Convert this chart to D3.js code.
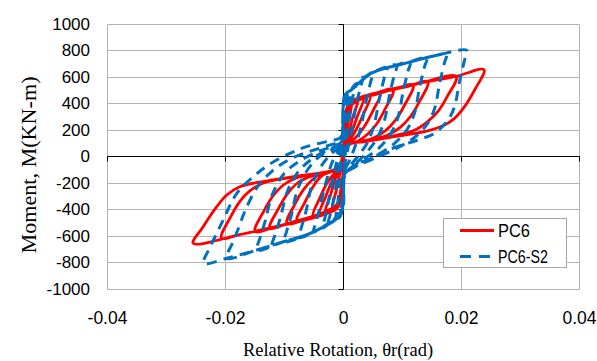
<!DOCTYPE html>
<html><head><meta charset="utf-8">
<script src="https://cdn.jsdelivr.net/npm/d3@7"></script>
<style>body{margin:0;background:#fff}svg{display:block}</style>
</head><body><svg id="c" width="597" height="361"></svg>
<script>
const xTickValues = [-0.04, -0.02, 0, 0.02, 0.04];
const yTickValues = [-1000, -800, -600, -400, -200, 0, 200, 400, 600, 800, 1000];
const seriesNames = ["PC6", "PC6-S2"];
const seriesColors = ["#FF0000", "#0070C0"];

// PC6: relative rotation (rad), moment (kN-m)
const pc6 = [
[0,0],
[0.0003,180],[0.0008,330],[0.0015,395],[0.0009,260],[0.0005,140],[0.0002,40],[0,-120],[-0.0004,-260],[-0.001,-360],[-0.0018,-390],[-0.0011,-250],[-0.0006,-140],[-0.0002,-40],
[0.0001,100],[0.0004,260],[0.001,370],[0.0025,420],[0.0016,290],[0.001,170],[0.0005,110],[0.0002,40],[0,-150],[-0.0004,-280],[-0.001,-360],[-0.003,-420],[-0.0021,-290],[-0.0013,-170],[-0.0006,-110],[-0.0002,-40],
[0.0001,100],[0.0004,270],[0.001,375],[0.0022,410],[0.0035,440],[0.0024,300],[0.0015,190],[0.0007,120],[0.0002,40],[0,-150],[-0.0004,-290],[-0.001,-365],[-0.0025,-405],[-0.004,-435],[-0.0029,-300],[-0.0019,-190],[-0.0009,-120],[-0.0002,-40],
[0.0001,100],[0.0004,280],[0.001,380],[0.0025,420],[0.0046,455],[0.0034,315],[0.0022,200],[0.0012,130],[0.0004,90],[0.0001,0],[0,-160],[-0.0004,-300],[-0.001,-370],[-0.003,-415],[-0.0051,-450],[-0.0039,-310],[-0.0027,-200],[-0.0015,-130],[-0.0005,-100],[-0.0001,0],
[0.0002,120],[0.0005,290],[0.001,385],[0.0035,440],[0.0063,478],[0.0049,330],[0.0036,225],[0.0022,145],[0.001,100],[0.0003,60],[0.0001,-60],[0,-200],[-0.0005,-320],[-0.001,-375],[-0.004,-435],[-0.0078,-485],[-0.0064,-340],[-0.0051,-230],[-0.0037,-150],[-0.002,-115],[-0.0006,-95],[-0.0002,-30],
[0.0002,130],[0.0005,300],[0.0012,390],[0.004,450],[0.0085,505],[0.0071,355],[0.0057,245],[0.0042,170],[0.0025,115],[0.001,95],[0.0003,50],[0.0001,-60],[0,-220],[-0.0005,-330],[-0.0012,-380],[-0.005,-450],[-0.0095,-505],[-0.0081,-355],[-0.0067,-250],[-0.0052,-175],[-0.0035,-125],[-0.0015,-100],[-0.0003,-40],
[0.0002,140],[0.0005,310],[0.0012,395],[0.005,465],[0.0085,505],[0.0119,540],[0.0104,385],[0.0089,275],[0.0072,195],[0.005,135],[0.0025,110],[0.001,95],[0.0003,50],[0.0001,-60],[0,-230],[-0.0005,-335],[-0.0012,-385],[-0.005,-450],[-0.009,-500],[-0.0124,-540],[-0.0109,-390],[-0.0094,-280],[-0.0077,-200],[-0.0055,-150],[-0.003,-120],[-0.001,-100],[-0.0003,-40],
[0.0002,150],[0.0005,320],[0.0012,400],[0.006,475],[0.011,530],[0.0144,565],[0.0129,410],[0.0114,300],[0.0097,220],[0.0075,160],[0.004,120],[0.0012,95],[0.0003,50],[0.0001,-60],[0,-240],[-0.0005,-340],[-0.0012,-390],[-0.006,-465],[-0.011,-525],[-0.0149,-565],[-0.0134,-410],[-0.0119,-300],[-0.0101,-215],[-0.0078,-160],[-0.004,-125],[-0.0012,-100],[-0.0003,-40],
[0.0002,150],[0.0005,330],[0.0012,405],[0.006,480],[0.012,540],[0.0192,605],[0.0177,455],[0.0161,340],[0.0144,265],[0.0122,200],[0.008,150],[0.004,115],[0.0012,95],[0.0003,50],[0.0001,-60],[0,-250],[-0.0005,-345],[-0.0012,-395],[-0.006,-470],[-0.012,-535],[-0.0175,-590],[-0.0206,-615],[-0.0191,-460],[-0.0175,-340],[-0.0158,-260],[-0.0135,-200],[-0.009,-160],[-0.004,-125],[-0.0012,-100],[-0.0003,-40],
[0.0002,150],[0.0005,340],[0.0012,410],[0.006,485],[0.012,545],[0.0192,605],[0.0239,655],[0.0223,502],[0.0206,376],[0.0189,288],[0.0172,238],[0.0138,187],[0.008,145],[0.004,115],[0.0012,95],[0.0003,50],[0.0001,-60],[0,-250],[-0.0005,-350],[-0.0012,-400],[-0.006,-475],[-0.012,-535],[-0.0175,-590],[-0.0254,-655],[-0.0237,-530],[-0.0214,-379],[-0.0197,-291],[-0.0175,-228],[-0.013,-185],[-0.008,-150],[-0.004,-125],[-0.0012,-100],[-0.0003,-40],[0,0]
];

// PC6-S2
const pc6s2 = [
[0,0],
[0.0002,250],[0.0006,420],[0.0012,480],[0.0009,380],[0.0005,150],[0.0002,-100],[0,-300],[-0.0005,-420],[-0.0012,-460],[-0.0009,-360],[-0.0005,-150],[-0.0002,100],
[0,250],[0.0004,430],[0.0012,495],[0.0022,550],[0.0018,480],[0.0011,300],[0.0005,80],[0.0002,-100],[0,-300],[-0.0004,-420],[-0.0011,-455],[-0.0025,-505],[-0.0021,-430],[-0.0014,-280],[-0.0007,-80],[-0.0002,80],
[0,280],[0.0004,440],[0.0014,502],[0.0034,600],[0.003,530],[0.0022,380],[0.0014,180],[0.0007,30],[0.0002,-100],[0,-320],[-0.0005,-425],[-0.0013,-465],[-0.0035,-540],[-0.0031,-470],[-0.0024,-320],[-0.0015,-130],[-0.0007,30],[-0.0002,90],
[0,300],[0.0004,445],[0.0014,502],[0.003,575],[0.0051,635],[0.0047,565],[0.0039,415],[0.003,215],[0.002,70],[0.001,-40],[0.0003,-110],[0,-330],[-0.0005,-430],[-0.0013,-470],[-0.003,-520],[-0.005,-570],[-0.0046,-500],[-0.0039,-380],[-0.0028,-180],[-0.0018,-40],[-0.0008,40],[-0.0002,100],
[0,320],[0.0004,450],[0.0014,502],[0.0048,628],[0.0074,665],[0.007,595],[0.0062,445],[0.0053,245],[0.0042,110],[0.0025,0],[0.001,-80],[0.0003,-120],[0,-350],[-0.0005,-440],[-0.0013,-475],[-0.0033,-530],[-0.0075,-612],[-0.0071,-542],[-0.0063,-420],[-0.0053,-220],[-0.0038,-80],[-0.002,20],[-0.0006,70],[-0.0002,110],
[0,330],[0.0004,455],[0.0014,502],[0.0048,628],[0.0091,688],[0.0087,618],[0.0079,468],[0.007,268],[0.0058,140],[0.004,30],[0.002,-60],[0.0005,-120],[0.0001,-160],[0,-360],[-0.0005,-445],[-0.0013,-478],[-0.0033,-530],[-0.0062,-592],[-0.01,-642],[-0.0096,-572],[-0.0088,-450],[-0.0077,-250],[-0.006,-100],[-0.004,0],[-0.002,50],[-0.0005,90],[-0.0001,120],
[0,340],[0.0004,460],[0.0014,502],[0.0048,628],[0.0085,682],[0.0114,712],[0.011,642],[0.0102,492],[0.0093,292],[0.008,165],[0.006,60],[0.0035,-20],[0.0012,-90],[0.0003,-130],[0,-370],[-0.0005,-450],[-0.0013,-480],[-0.0033,-530],[-0.0062,-592],[-0.0101,-643],[-0.012,-670],[-0.0115,-590],[-0.0106,-460],[-0.0094,-260],[-0.0075,-110],[-0.005,-10],[-0.0025,50],[-0.0006,95],[-0.0001,125],
[0,350],[0.0004,465],[0.0014,502],[0.0048,628],[0.0105,703],[0.0142,745],[0.0138,675],[0.013,525],[0.0121,325],[0.0108,200],[0.0085,90],[0.005,-10],[0.002,-80],[0.0004,-130],[0,-375],[-0.0005,-452],[-0.0013,-482],[-0.0033,-530],[-0.0062,-592],[-0.0101,-643],[-0.0146,-706],[-0.0141,-620],[-0.0132,-490],[-0.012,-290],[-0.01,-130],[-0.0072,-30],[-0.004,40],[-0.0015,80],[-0.0003,110],
[0,360],[0.0004,470],[0.0014,502],[0.0048,628],[0.0105,703],[0.0161,766],[0.0176,778],[0.0172,708],[0.0164,558],[0.0155,358],[0.0142,240],[0.012,140],[0.009,60],[0.005,-20],[0.002,-80],[0.0004,-135],[0,-378],[-0.0005,-454],[-0.0013,-482],[-0.0033,-530],[-0.0062,-592],[-0.0101,-643],[-0.0146,-706],[-0.0197,-768],[-0.0187,-650],[-0.0177,-540],[-0.0166,-410],[-0.0145,-230],[-0.012,-110],[-0.009,-20],[-0.0055,40],[-0.002,90],[-0.0004,115],
[0,380],[0.0004,475],[0.0014,502],[0.0048,628],[0.0105,703],[0.0161,766],[0.021,800],[0.0206,728],[0.0198,577],[0.0189,376],[0.0178,275],[0.0155,175],[0.0127,125],[0.0076,49],[0.0048,-14],[0.002,-64],[0.0003,-140],[0,-379],[-0.0011,-454],[-0.0033,-530],[-0.0062,-592],[-0.0101,-643],[-0.0146,-706],[-0.0197,-768],[-0.0236,-806],[-0.0225,-681],[-0.0214,-580],[-0.0203,-479],[-0.018,-278],[-0.0152,-152],[-0.0125,-60],[-0.009,24],[-0.0062,74],[-0.0028,112],[-0.0005,140],[0,200]
];

const svg = d3.select("#c");
const x = d3.scaleLinear().domain([-0.04, 0.04]).range([107, 579]);
const y = d3.scaleLinear().domain([-1000, 1000]).range([289, 24]);
const px = v => Math.floor(v) + 0.5;
const gridColor = "#b4b4b4";

// gridlines
svg.append("g").selectAll("line").data(yTickValues).join("line")
  .attr("x1", px(x(-0.04))).attr("x2", px(x(0.04)))
  .attr("y1", d => px(y(d))).attr("y2", d => px(y(d)))
  .attr("stroke", gridColor).attr("stroke-width", 1);
svg.append("g").selectAll("line").data(xTickValues.filter(d => d !== 0)).join("line")
  .attr("y1", px(y(1000))).attr("y2", px(y(-1000)))
  .attr("x1", d => px(x(d))).attr("x2", d => px(x(d)))
  .attr("stroke", gridColor).attr("stroke-width", 1);

// axes crossing at zero with tick marks
const x0 = px(x(0)), y0 = px(y(0));
svg.append("line").attr("x1", px(x(-0.04))).attr("x2", px(x(0.04))).attr("y1", y0).attr("y2", y0).attr("stroke", "#000");
svg.append("line").attr("x1", x0).attr("x2", x0).attr("y1", px(y(1000))).attr("y2", px(y(-1000))).attr("stroke", "#000");
svg.append("g").selectAll("line").data(yTickValues).join("line")
  .attr("x1", x0 - 5).attr("x2", x0).attr("y1", d => px(y(d))).attr("y2", d => px(y(d))).attr("stroke", "#000");
svg.append("g").selectAll("line").data(xTickValues).join("line")
  .attr("y1", y0).attr("y2", y0 + 5).attr("x1", d => px(x(d))).attr("x2", d => px(x(d))).attr("stroke", "#000");

// tick labels
const tickFont = "'Liberation Sans', Arial, sans-serif";
svg.append("g").attr("transform", "translate(97,0)")
  .call(d3.axisLeft(y).tickValues(yTickValues).tickSize(0).tickPadding(7).tickFormat(d => String(d)))
  .call(g => g.select(".domain").remove())
  .attr("font-family", tickFont).attr("font-size", 17)
  .selectAll("text").attr("fill", "#000");
svg.append("g").attr("transform", "translate(0,289)")
  .call(d3.axisBottom(x).tickValues(xTickValues).tickSize(0).tickPadding(23).tickFormat(d => String(d)))
  .call(g => g.select(".domain").remove())
  .attr("font-family", tickFont).attr("font-size", 17.5)
  .selectAll("text").attr("fill", "#000");

// axis titles
const serif = "'Liberation Serif', 'Times New Roman', serif";
svg.append("text").attr("x", 338).attr("y", 356).attr("text-anchor", "middle")
  .attr("font-family", serif).attr("font-size", 18.5).attr("fill", "#000")
  .text("Relative Rotation, θr(rad)");
svg.append("text").attr("transform", "translate(36,165) rotate(-90)").attr("text-anchor", "middle")
  .attr("font-family", serif).attr("font-size", 20).attr("fill", "#000")
  .attr("textLength", 177).attr("lengthAdjust", "spacingAndGlyphs")
  .text("Moment, M(KN-m)");

// series
const line = d3.line().x(d => x(d[0])).y(d => y(d[1])).curve(d3.curveCatmullRom.alpha(0.5));
svg.append("path").datum(pc6).attr("d", line).attr("fill", "none")
  .attr("stroke", seriesColors[0]).attr("stroke-width", 2.8).attr("stroke-linejoin", "round");
svg.append("path").datum(pc6s2).attr("d", line).attr("fill", "none")
  .attr("stroke", seriesColors[1]).attr("stroke-width", 3).attr("stroke-linejoin", "round")
  .attr("stroke-dasharray", "10,7");

// legend
const lg = svg.append("g");
lg.append("rect").attr("x", 443.5).attr("y", 218.5).attr("width", 123).attr("height", 49)
  .attr("fill", "#fff").attr("stroke", "#a6a6a6");
seriesNames.forEach((name, i) => {
  const yy = 230.5 + i * 26;
  const l = lg.append("line").attr("x1", 460).attr("x2", 494).attr("y1", yy).attr("y2", yy)
    .attr("stroke", seriesColors[i]).attr("stroke-width", 3);
  if (i === 1) l.attr("stroke-dasharray", "11,8");
  lg.append("text").attr("x", 498).attr("y", yy + 6.5)
    .attr("font-family", tickFont).attr("font-size", 18).attr("fill", "#000")
    .attr("textLength", i === 0 ? 32 : 50).attr("lengthAdjust", "spacingAndGlyphs")
    .text(name);
});
</script></body></html>
